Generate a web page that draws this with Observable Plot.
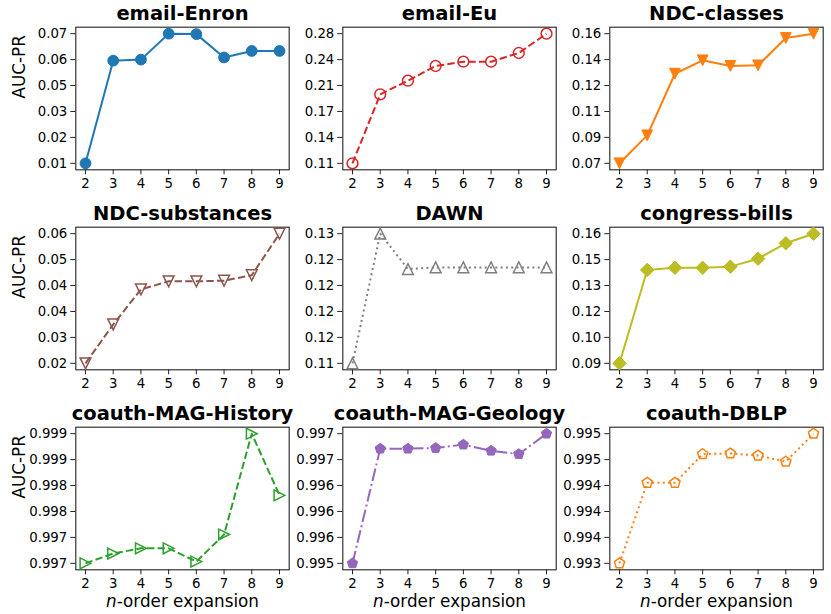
<!DOCTYPE html>
<html>
<head>
<meta charset="utf-8">
<script src="https://cdn.jsdelivr.net/npm/d3@7"></script>
<script src="https://cdn.jsdelivr.net/npm/@observablehq/plot@0.6"></script>
<style>
  body { margin: 0; background: white; }
  #chart { position: relative; width: 831px; height: 614px; background: white; font-family: "DejaVu Sans", sans-serif; }
  #chart svg { position: absolute; overflow: visible; }
</style>
</head>
<body>
<div id="chart"></div>
<script>
// ---- data ----
const orders = [2, 3, 4, 5, 6, 7, 8, 9];
const titles = ["email-Enron", "email-Eu", "NDC-classes", "NDC-substances", "DAWN", "congress-bills",
                "coauth-MAG-History", "coauth-MAG-Geology", "coauth-DBLP"];

const emailEnron     = [0.0100, 0.0575, 0.0580, 0.0700, 0.0698, 0.0590, 0.0620, 0.0620];
const emailEu        = [0.1065, 0.1964, 0.2142, 0.2334, 0.2390, 0.2390, 0.2503, 0.2755];
const ndcClasses     = [0.0700, 0.0894, 0.1322, 0.1415, 0.1376, 0.1380, 0.1570, 0.1600];
const ndcSubstances  = [0.0200, 0.0320, 0.0428, 0.0453, 0.0453, 0.0455, 0.0472, 0.0600];
const dawn           = [0.1125, 0.1275, 0.1234, 0.1236, 0.1236, 0.1236, 0.1236, 0.1236];
const congressBills  = [0.0900, 0.1404, 0.1416, 0.1416, 0.1422, 0.1465, 0.1548, 0.1600];
const magHistory     = [0.99695, 0.99712, 0.99721, 0.99721, 0.99698, 0.99745, 0.99920, 0.99813];
const magGeology     = [0.99520, 0.99688, 0.99688, 0.99689, 0.99694, 0.99685, 0.99680, 0.99710];
const dblp           = [0.99320, 0.99438, 0.99438, 0.99480, 0.99481, 0.99478, 0.99469, 0.99510];

const emailEnronTicks    = ["0.01", "0.02", "0.03", "0.05", "0.06", "0.07"];
const emailEuTicks       = ["0.11", "0.14", "0.17", "0.21", "0.24", "0.28"];
const ndcClassesTicks    = ["0.07", "0.09", "0.11", "0.12", "0.14", "0.16"];
const ndcSubstancesTicks = ["0.02", "0.03", "0.04", "0.04", "0.05", "0.06"];
const dawnTicks          = ["0.11", "0.12", "0.12", "0.12", "0.12", "0.13"];
const congressBillsTicks = ["0.09", "0.10", "0.12", "0.13", "0.15", "0.16"];
const magHistoryTicks    = ["0.997", "0.997", "0.998", "0.998", "0.999", "0.999"];
const magGeologyTicks    = ["0.995", "0.996", "0.996", "0.996", "0.997", "0.997"];
const dblpTicks          = ["0.993", "0.994", "0.994", "0.994", "0.995", "0.995"];

const colors = ["#1f77b4", "#d62728", "#ff7f0e", "#8c564b", "#7f7f7f", "#bcbd22", "#2ca02c", "#9467bd", "#ff7f0e"];

// ---- custom marker symbols (matplotlib-like) ----
function poly(points) {
  return {
    draw(ctx, size) {
      const s = Math.sqrt(size / Math.PI);
      points.forEach(([px, py], i) => i ? ctx.lineTo(px * s, py * s) : ctx.moveTo(px * s, py * s));
      ctx.closePath();
    }
  };
}
const triDown = poly([[0, 1], [-1, -1], [1, -1]]);
const triUp = poly([[0, -1], [-1, 1], [1, 1]]);
const triRight = poly([[1, 0], [-1, -1], [-1, 1]]);
const diamondD = poly([[0, -1.25], [1.25, 0], [0, 1.25], [-1.25, 0]]);
const pentagon = poly(d3.range(5).map(k => {
  const a = -Math.PI / 2 + k * 2 * Math.PI / 5;
  return [Math.cos(a), Math.sin(a)];
}));

const panels = [
  {values: emailEnron, ticks: emailEnronTicks, symbol: "circle", filled: true, dash: null},
  {values: emailEu, ticks: emailEuTicks, symbol: "circle", filled: false, dash: "7.4,3.2"},
  {values: ndcClasses, ticks: ndcClassesTicks, symbol: triDown, filled: true, dash: null},
  {values: ndcSubstances, ticks: ndcSubstancesTicks, symbol: triDown, filled: false, dash: "7.4,3.2"},
  {values: dawn, ticks: dawnTicks, symbol: triUp, filled: false, dash: "2,3.3"},
  {values: congressBills, ticks: congressBillsTicks, symbol: diamondD, filled: true, dash: null},
  {values: magHistory, ticks: magHistoryTicks, symbol: triRight, filled: false, dash: "7.4,3.2"},
  {values: magGeology, ticks: magGeologyTicks, symbol: pentagon, filled: true, dash: "12.8,3.2,2,3.2"},
  {values: dblp, ticks: dblpTicks, symbol: pentagon, filled: false, dash: "2,3.3"}
];

const chart = document.getElementById("chart");
const FRAME_W = 213.4, FRAME_H = 142.6, ML = 75.3, MT = 26.7, SVG_W = 295;

panels.forEach((p, i) => {
  const col = i % 3, row = Math.floor(i / 3);
  const H = row === 2 ? 214 : 200;
  const data = orders.map((x, k) => ({x, y: p.values[k]}));
  const mn = d3.min(p.values), mx = d3.max(p.values), rg = mx - mn;
  const yTicks = d3.range(6).map(k => mn + k * rg / 5);
  const c = colors[i];
  const marks = [
    Plot.frame({stroke: "#222", strokeWidth: 1.1}),
    Plot.axisY({ticks: yTicks, tickFormat: d => p.ticks[yTicks.indexOf(d)], tickSize: 5, tickPadding: 3.5,
                fontSize: 13.3, label: null, stroke: "#222", fill: "black"}),
    Plot.axisX({ticks: orders, tickFormat: d => String(d), tickSize: 5, tickPadding: 3.5,
                fontSize: 13.3, label: null, stroke: "#222", fill: "black"}),
    Plot.line(data, {x: "x", y: "y", stroke: c, strokeWidth: 2, strokeDasharray: p.dash, strokeLinecap: "butt"}),
    Plot.dot(data, {x: "x", y: "y", symbol: () => p.symbol, r: 5.4,
                    fill: p.filled ? c : "none", stroke: c, strokeWidth: p.filled ? 1 : 1.5}),
    Plot.text([titles[i]], {frameAnchor: "top", lineAnchor: "bottom", dy: -7, fontSize: 19.5,
                            fontWeight: "bold", fill: "black"})
  ];
  if (col === 0) {
    marks.push(Plot.text(["AUC-PR"], {frameAnchor: "left", rotate: -90, dx: -56, fontSize: 16.8, fill: "black"}));
  }
  if (row === 2) {
    marks.push(Plot.text(["n-order expansion"], {frameAnchor: "bottom", lineAnchor: "bottom", dy: 37,
                                                  fontSize: 16.8, fill: "black", className: "xlab"}));
  }
  const svg = Plot.plot({
    width: SVG_W, height: H,
    marginLeft: ML, marginRight: SVG_W - ML - FRAME_W,
    marginTop: MT, marginBottom: H - MT - FRAME_H,
    style: {background: "transparent", fontFamily: "DejaVu Sans", overflow: "visible", maxWidth: "none"},
    x: {domain: [1.65, 9.35]},
    y: {domain: [mn - 0.05 * rg, mx + 0.05 * rg]},
    symbol: {type: "identity"},
    marks
  });
  svg.style.left = (267 * col) + "px";
  svg.style.top = (200 * row) + "px";
  chart.appendChild(svg);
});

// italic "n" in x-axis labels
document.querySelectorAll(".xlab text").forEach(t => {
  t.textContent = "";
  const a = document.createElementNS("http://www.w3.org/2000/svg", "tspan");
  a.setAttribute("font-style", "italic");
  a.textContent = "n";
  const b = document.createElementNS("http://www.w3.org/2000/svg", "tspan");
  b.textContent = "-order expansion";
  t.appendChild(a); t.appendChild(b);
});
</script>
</body>
</html>
